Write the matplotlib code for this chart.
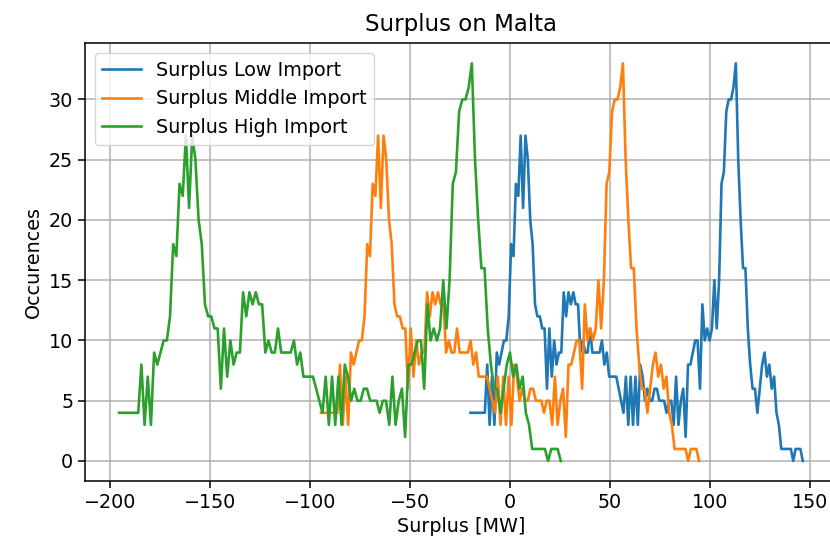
import numpy as np
import matplotlib
matplotlib.use("Agg")
import matplotlib.pyplot as plt

# Histogram counts (same shape for all three import scenarios)
occurrences = [4, 4, 4, 4, 4, 4, 4, 8, 3, 7,
               3, 9, 8, 9, 10, 10, 12, 18, 17, 23,
               22, 27, 21, 27, 25, 20, 18, 13, 12, 12,
               11, 11, 6, 11, 7, 10, 8, 9, 9, 14,
               12, 14, 13, 14, 13, 13, 9, 10, 9, 9,
               11, 9, 9, 9, 9, 10, 8, 9, 7, 7,
               7, 7, 6, 5, 4, 7, 3, 7, 3, 7,
               3, 8, 7, 5, 6, 5, 5, 6, 6, 5,
               5, 5, 4, 5, 5, 3, 7, 3, 5, 6,
               2, 8, 8, 9, 10, 10, 6, 13, 10, 11,
               10, 11, 15, 11, 15, 23, 24, 29, 30, 30,
               31, 33, 25, 20, 16, 16, 11, 8, 6, 6,
               4, 6, 8, 9, 7, 8, 6, 7, 4, 3,
               1, 1, 1, 1, 1, 0, 1, 1, 1, 0]

# Surplus ranges [MW] covered by the histogram bins of each scenario
low_range = (-19.7, 146.6)
middle_range = (-94.5, 94.7)
high_range = (-195.5, 25.5)

labels = ["Surplus Low Import", "Surplus Middle Import", "Surplus High Import"]

n = len(occurrences)
fig = plt.figure(figsize=(8.3, 5.43), dpi=100)
ax = fig.add_axes([0.1024, 0.1144, 0.906, 0.8056])

for rng, lab in zip([low_range, middle_range, high_range], labels):
    x = np.linspace(rng[0], rng[1], n)
    ax.plot(x, occurrences, label=lab, linewidth=1.9)

ax.grid(True, linewidth=1.1, color="#b0b0b0")
ax.set_title("Surplus on Malta", fontsize=16.5, pad=9)
ax.set_xlabel("Surplus [MW]", fontsize=13.8)
ax.set_ylabel("Occurences", fontsize=13.8)
ax.tick_params(labelsize=13.8, width=1.1, length=5)
for s in ax.spines.values():
    s.set_linewidth(1.1)
ax.set_xticks([-200, -150, -100, -50, 0, 50, 100, 150])
ax.legend(loc="upper left", fontsize=13.8, handlelength=2.0)

fig.savefig("out.png", dpi=100)
